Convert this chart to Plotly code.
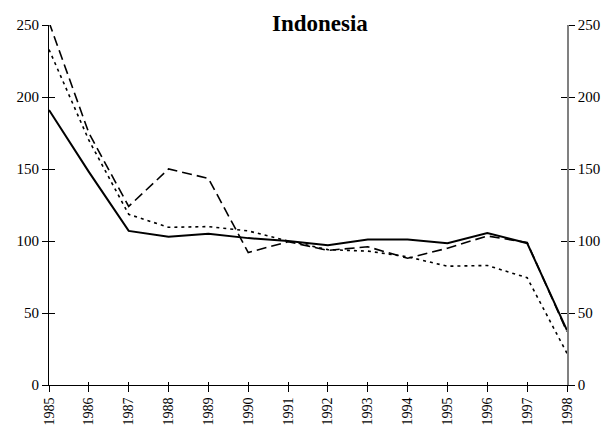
import plotly.graph_objects as go

years = list(range(1985, 1999))
solid = [191, 148, 107, 103, 105, 102, 100, 97, 101, 101, 98.5, 105.5, 98.5, 38]
dashed = [252, 175, 124, 150, 143.5, 92, 99.5, 93.5, 96, 88, 95, 103.5, 99, 37]
dotted = [233, 170, 118.5, 109.5, 110, 107, 100, 94, 93, 89, 82.5, 83, 74.5, 22]
y_ticks = [0, 50, 100, 150, 200, 250]

fig = go.Figure()
fig.add_trace(go.Scatter(x=years, y=solid, mode="lines",
                         line=dict(color="black", width=2), showlegend=False))
fig.add_trace(go.Scatter(x=years, y=dashed, mode="lines",
                         line=dict(color="black", width=1.6, dash="10px,5px"), showlegend=False))
fig.add_trace(go.Scatter(x=years, y=dotted, mode="lines",
                         line=dict(color="black", width=1.6, dash="3px,4px"), showlegend=False))
# invisible traces so the extra overlay axes are drawn
for ya in ["y2", "y3", "y4"]:
    fig.add_trace(go.Scatter(x=[years[0]], y=[0], xaxis="x2", yaxis=ya, mode="markers",
                             marker=dict(opacity=0), showlegend=False, hoverinfo="skip"))

serif = "Liberation Serif, Times New Roman, serif"
font = dict(family=serif, size=15, color="black")
xfont = dict(family=serif, size=14, color="black")
xr = [1985, 1998]
yr = [0, 250]
common_x = dict(range=xr, tickmode="array", tickvals=years, showgrid=False, zeroline=False,
                automargin=False)
common_y = dict(range=yr, tickmode="array", tickvals=y_ticks, showgrid=False, zeroline=False,
                automargin=False)

L, R, T, B = 49, 37, 25, 41
W, H = 604, 426

fig.update_layout(
    template="none",
    width=W, height=H,
    margin=dict(l=L, r=R, t=T, b=B, pad=0),
    plot_bgcolor="white", paper_bgcolor="white",
    font=font,
    xaxis=dict(**common_x, ticktext=[str(y) for y in years], tickangle=-90,
               ticks="outside", ticklen=6, tickcolor="black", tickwidth=1,
               showline=True, linecolor="black", linewidth=1, tickfont=xfont),
    xaxis2=dict(**common_x, overlaying="x", side="bottom", ticks="inside", ticklen=3,
                tickcolor="black", showticklabels=False, showline=False),
    yaxis=dict(**common_y, ticks="outside", ticklen=6, tickcolor="black",
               showline=True, linecolor="black", linewidth=1, tickfont=font),
    yaxis2=dict(**common_y, overlaying="y", side="right", ticks="outside", ticklen=6,
                tickcolor="black", showline=True, linecolor="#808080", linewidth=1.5,
                tickfont=font),
    yaxis3=dict(**common_y, overlaying="y", side="left", ticks="inside", ticklen=6,
                tickcolor="black", showticklabels=False, showline=False),
    yaxis4=dict(**common_y, overlaying="y", side="right", ticks="inside", ticklen=6,
                tickcolor="black", showticklabels=False, showline=False),
    annotations=[dict(text="<b>Indonesia</b>",
                      x=(320 - L) / (W - L - R), y=(385 - 23) / (385 - 25),
                      xref="paper", yref="paper", xanchor="center", yanchor="middle",
                      showarrow=False, font=dict(family=serif, size=23, color="black"))],
)

fig.write_html("out.html", config={"displayModeBar": False},
               post_script="document.body.style.margin='0';document.body.style.overflow='hidden';")
